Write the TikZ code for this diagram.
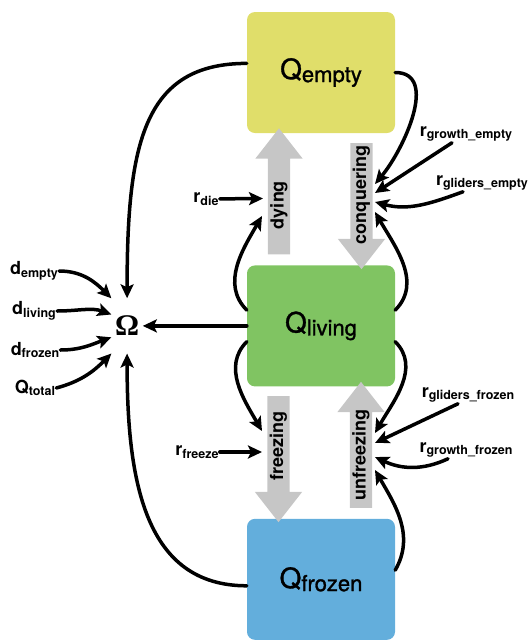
\documentclass[tikz,border=0pt]{standalone}
\usepackage{fontspec}
\setmainfont{TeX Gyre Heros}
\newfontfamily\statefont{TeX Gyre Heros}[FakeBold=1.2]
\newfontfamily\omegafont{Liberation Serif}
\usetikzlibrary{shapes.arrows,arrows.meta,positioning}

\definecolor{emptyyellow}{RGB}{224,222,106}
\definecolor{livinggreen}{RGB}{128,196,98}
\definecolor{frozenblue}{RGB}{99,174,220}
\definecolor{flowgray}{RGB}{198,198,198}

\newcommand{\statelabel}[1]{{\statefont\fontsize{28}{28}\selectfont Q}\raisebox{-3pt}{\statefont\fontsize{22}{22}\selectfont #1}}
\newcommand{\ratelabel}[2]{{\fontsize{18}{18}\selectfont\bfseries #1}\raisebox{-2.5pt}{\fontsize{12.5}{12.5}\selectfont\bfseries #2}}

\begin{document}
\begin{tikzpicture}[
    x = 1pt, y = 1pt,
    node distance = 132pt,
    state/.style = {rounded corners=8pt, minimum width=148pt, minimum height=121pt, inner sep=0pt},
    flow/.style = {single arrow, fill=flowgray, rotate=90, minimum height=126pt,
      minimum width=47pt, single arrow head extend=12.5pt, single arrow tip angle=76,
      single arrow head indent=0pt, inner xsep=0pt, inner ysep=0pt,
      text height=22pt, text depth=0pt},
    flowtext/.style = {rotate=90, inner sep=0pt, text height=13pt, text depth=4pt,
      font=\fontsize{18}{18}\selectfont\bfseries},
    rate/.style = {inner sep=1pt},
    link/.style = {draw, line width=3.5pt, line cap=round, -{Stealth[length=14pt,width=13pt,inset=3pt]}}
  ]

  \useasboundingbox (0,0) rectangle (529,-641);

  % states
  \node[state, fill=emptyyellow] (empty) at (321,-72.5) {\statelabel{empty}};
  \node[state, fill=livinggreen] (living) [below=of empty] {\statelabel{living}};
  \node[state, fill=frozenblue] (frozen) [below=of living] {\statelabel{frozen}};
  \node[inner xsep=3.5pt, inner ysep=17.5pt] (omega) [left=104pt of living]
    {\omegafont\bfseries\fontsize{30}{30}\selectfont Ω};

  % flows between states
  \node[flow] (dying) at (279,-198.5) {};
  \node[flow, shape border rotate=180] (conquer) at (361.5,-199) {};
  \node[flow, shape border rotate=180] (freeze) at (278.5,-452) {};
  \node[flow] (unfreeze) at (361,-452) {};
  \node[flowtext] (dyingtext) at (279,-205) {dying};
  \node[flowtext] (conquertext) at (361.5,-195) {conquering};
  \node[flowtext] (freezetext) at (278.5,-446) {freezing};
  \node[flowtext] (unfreezetext) at (361,-455) {unfreezing};

  % rates
  \node[rate] (die) at (206,-199) {\ratelabel{r}{die}};
  \node[rate] (freezerate) at (197,-452) {\ratelabel{r}{freeze}};
  \node[rate] (growthE) at (466,-134) {\ratelabel{r}{growth\_empty}};
  \node[rate] (glidersE) at (482,-183) {\ratelabel{r}{gliders\_empty}};
  \node[rate] (glidersF) at (468,-395) {\ratelabel{r}{gliders\_frozen}};
  \node[rate] (growthF) at (466,-450) {\ratelabel{r}{growth\_frozen}};
  \node[rate] (dempty) at (34,-271) {\ratelabel{d}{empty}};
  \node[rate] (dliving) at (34,-311) {\ratelabel{d}{living}};
  \node[rate] (dfrozen) at (35,-350) {\ratelabel{d}{frozen}};
  \node[rate] (qtotal) at (35,-388) {\ratelabel{Q}{total}};

  % into omega
  \draw[link] (empty.173) to[out=180, in=90, in looseness=1.5] (omega.north);
  \draw[link] (frozen.185) to[out=180, in=-90, in looseness=1.25] (omega.south);
  \draw[link] (living) -- (omega);
  \draw[link] (dempty.east) to[out=0, in=135] (omega.north west);
  \draw[link] (dliving.east) to[out=0, in=160] (omega.144);
  \draw[link] (dfrozen.east) to[out=0, in=200] (omega.216);
  \draw[link] (qtotal.east) to[out=15, in=225] (omega.south west);

  % upper flows
  \draw[link] (die) -- ([xshift=-16pt]dying.center);
  \draw[link] (living.168) to[out=135, in=-120] ([xshift=-17pt,yshift=-17.5pt]dying.center);
  \draw[link] (empty.east) to[out=0, in=50] ([xshift=13.5pt,yshift=15pt]conquer.center);
  \draw[link] ([xshift=-14pt]growthE.south) -- ([xshift=13.5pt,yshift=6pt]conquer.center);
  \draw[link] ([xshift=-19pt]glidersE.south) to[out=200, in=-15] ([xshift=13.5pt,yshift=-3pt]conquer.center);
  \draw[link] (living.12) to[out=45, in=-60] ([xshift=13.5pt,yshift=-13pt]conquer.center);

  % lower flows
  \draw[link] (freezerate) -- ([xshift=-16.5pt]freeze.center);
  \draw[link] (living.192) to[out=-135, in=120] ([xshift=-16.5pt,yshift=21pt]freeze.center);
  \draw[link] (living.-12) to[out=-45, in=60] ([xshift=14pt,yshift=19pt]unfreeze.center);
  \draw[link] ([xshift=-10pt]glidersF.south) -- ([xshift=14pt,yshift=9pt]unfreeze.center);
  \draw[link] ([xshift=-18pt]growthF.south) to[out=205, in=-25] ([xshift=14pt,yshift=-5pt]unfreeze.center);
  \draw[link] (frozen.7) to[out=60, in=-60] ([xshift=14pt,yshift=-18pt]unfreeze.center);

\end{tikzpicture}
\end{document}
